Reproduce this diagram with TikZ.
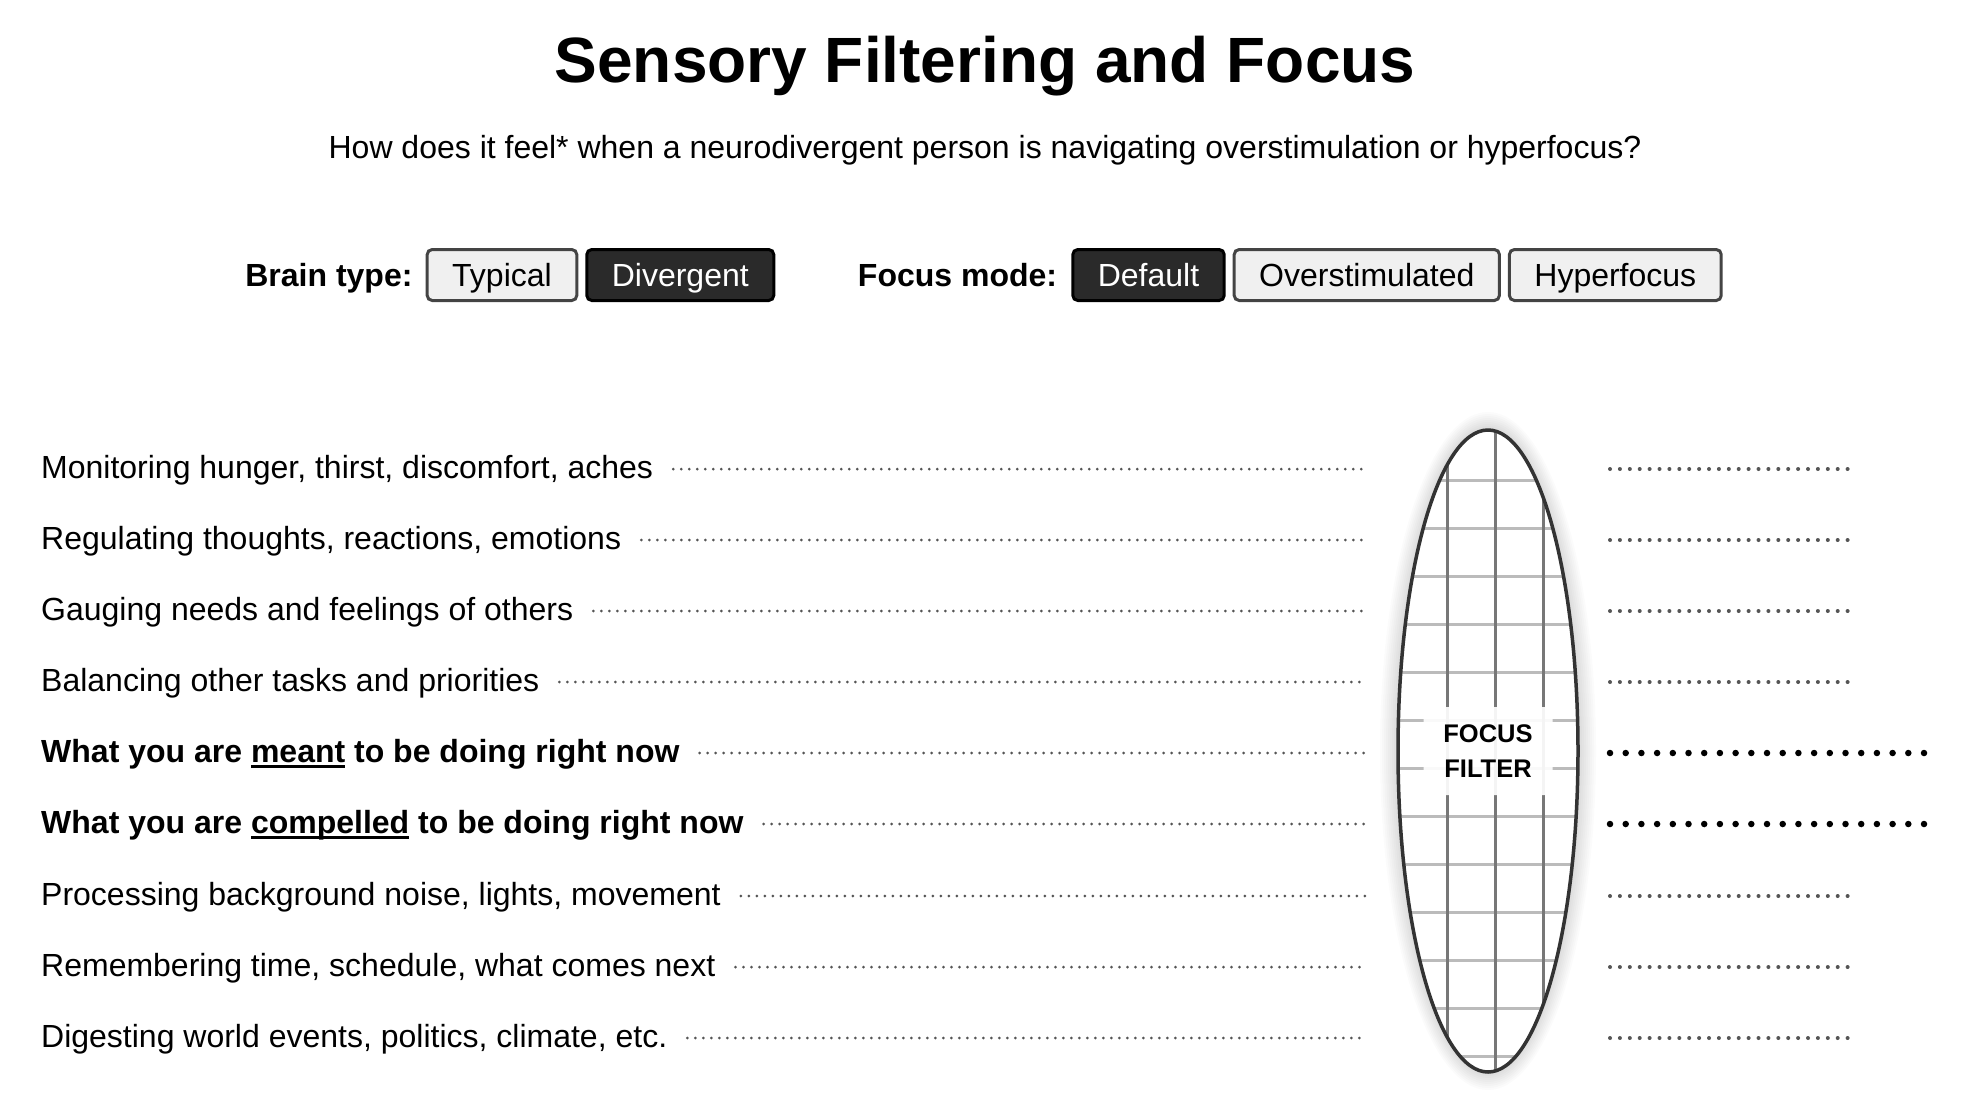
\documentclass[tikz,border=0pt]{standalone}
\usepackage{fontspec}
\setmainfont{Liberation Sans}
\usetikzlibrary{positioning,calc}
\definecolor{btnfill}{HTML}{F0F0F0}
\definecolor{btnedge}{HTML}{444444}
\definecolor{btndark}{HTML}{2A2A2A}
\definecolor{dotgray}{HTML}{555555}
\definecolor{gridv}{HTML}{777777}
\definecolor{gridh}{HTML}{BBBBBB}
\definecolor{lensedge}{HTML}{333333}

% underline drawn as a rule below the baseline
\newcommand{\undl}[1]{\setbox0\hbox{#1}\rlap{\vrule height -3pt depth 6pt width \wd0}\box0\relax}

\begin{document}
\begin{tikzpicture}[
    x=1pt, y=-1pt,
    font=\fontsize{32}{38}\selectfont,
    title/.style={font=\fontsize{64}{72}\selectfont\bfseries, anchor=base, inner sep=0pt},
    subtitle/.style={anchor=base, inner sep=0pt},
    optlabel/.style={font=\fontsize{32}{38}\selectfont\bfseries, inner sep=0pt, text height=23pt, text depth=0pt},
    button/.style={draw=btnedge, fill=btnfill, line width=3pt, rounded corners=5pt, minimum height=51pt, inner xsep=25pt, inner ysep=0pt, text height=23pt, text depth=0pt},
    activebutton/.style={button, draw=black, fill=btndark, text=white},
    rowtext/.style={anchor=base west, inner sep=0pt},
    keytext/.style={rowtext, font=\fontsize{32}{38}\selectfont\bfseries},
    leftdots/.style={dotgray, line width=3pt, line cap=round, dash pattern=on 0pt off 8pt},
    rightdots/.style={dotgray, line width=4pt, line cap=round, dash pattern=on 0pt off 9.9pt},
    keydots/.style={black, line width=6.5pt, line cap=round, dash pattern=on 0pt off 15.7pt},
    lensgrid/.style={line width=3pt},
    filterlabel/.style={fill=white, fill opacity=0.92, text opacity=1, rounded corners=8pt, minimum width=129pt, minimum height=88pt, inner sep=0pt, align=center, font=\fontsize{25.5}{35}\selectfont\bfseries},
]
    \useasboundingbox (0,0) rectangle (1968,1112);

    % =====================================================================
    % HEADER
    % =====================================================================
    \node[title] (title) at (985, 82) {Sensory Filtering and Focus};
    \node[subtitle] (subtitle) at (985, 158) {How does it feel* when a neurodivergent person is navigating overstimulation or hyperfocus?};

    % =====================================================================
    % TOGGLES
    % =====================================================================
    \node[button] (typical) at (502, 275) {Typical};
    \node[activebutton, right=7pt of typical] (divergent) {Divergent};
    \node[optlabel, left=13pt of typical] (brainlbl) {Brain type:};

    \node[activebutton] (default) at (1148.5, 275) {Default};
    \node[button, right=7pt of default] (overstim) {Overstimulated};
    \node[button, right=7pt of overstim] (hyper) {Hyperfocus};
    \node[optlabel, left=14pt of default] (focuslbl) {Focus mode:};

    % =====================================================================
    % INPUT STREAMS
    % =====================================================================
    \node[rowtext] (r1) at (41, 478) {Monitoring hunger, thirst, discomfort, aches};
    \node[rowtext] (r2) at (41, 549) {Regulating thoughts, reactions, emotions};
    \node[rowtext] (r3) at (41, 620) {Gauging needs and feelings of others};
    \node[rowtext] (r4) at (41, 691) {Balancing other tasks and priorities};
    \node[keytext] (r5) at (41, 762) {What you are \undl{meant} to be doing right now};
    \node[keytext] (r6) at (41, 833) {What you are \undl{compelled} to be doing right now};
    \node[rowtext] (r7) at (41, 905) {Processing background noise, lights, movement};
    \node[rowtext] (r8) at (41, 976) {Remembering time, schedule, what comes next};
    \node[rowtext] (r9) at (41, 1047) {Digesting world events, politics, climate, etc.};

    % line ends before and after the filter
    \foreach \i/\y in {1/469, 2/540, 3/611, 4/682, 5/753, 6/824, 7/896, 8/967, 9/1038} {
        \coordinate (in\i) at (1366, \y);
        \coordinate (out\i) at (1610, \y);
        \coordinate (end\i) at (1848, \y);
        \coordinate (keyend\i) at (1925, \y);
    }

    \foreach \i in {1,...,9}
        \draw[leftdots] ([xshift=20pt]r\i.east |- in\i) -- (in\i);

    \foreach \i in {1,2,3,4,7,8,9}
        \draw[rightdots] (out\i) -- (end\i);
    \foreach \i in {5,6}
        \draw[keydots] (out\i) -- (keyend\i);

    % =====================================================================
    % FOCUS FILTER
    % =====================================================================
    \coordinate (lens) at (1488, 751);
    \foreach \d in {18,16,...,2}
        \fill[black, opacity=0.016] (lens) ellipse ({90+\d} and {321+\d});
    \fill[white] (lens) ellipse (90 and 321);

    \begin{scope}
        \clip (lens) ellipse (90 and 321);
        \foreach \y in {480,528,...,1056}
            \draw[lensgrid, gridh] (1390, \y) -- (1590, \y);
        \foreach \x in {1447,1495,1543}
            \draw[lensgrid, gridv] (\x, 420) -- (\x, 1080);
    \end{scope}

    \node[filterlabel] (filter) at (lens) {FOCUS\\FILTER};
    \draw[lensedge, line width=3.5pt] (lens) ellipse (90 and 321);

\end{tikzpicture}
\end{document}
